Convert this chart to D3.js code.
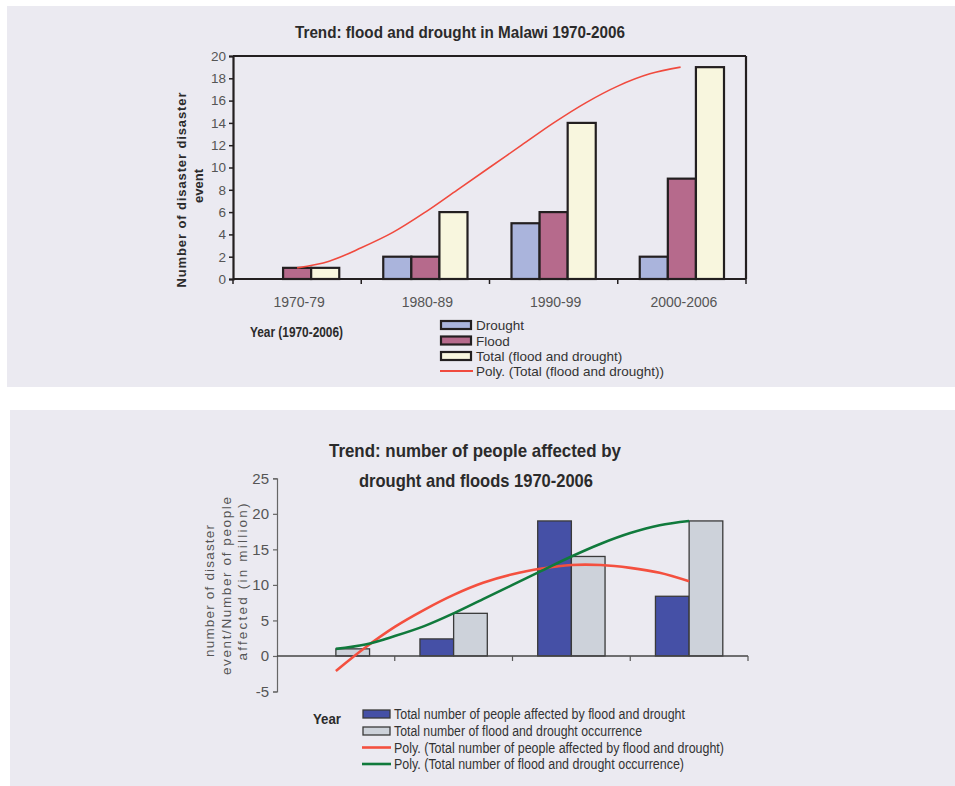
<!DOCTYPE html>
<html>
<head>
<meta charset="utf-8">
<script src="https://cdn.jsdelivr.net/npm/d3@7"></script>
<style>
  body { margin: 0; background: #ffffff; }
  svg { display: block; }
</style>
</head>
<body>
<svg id="chart" width="955" height="786"></svg>
<script>
// ---------- Chart 1: flood and drought events per period ----------
const periods = ["1970-79", "1980-89", "1990-99", "2000-2006"];
const droughtEvents = [0, 2, 5, 2];
const floodEvents = [1, 2, 6, 9];
const totalEvents = [1, 6, 14, 19];
const eventTicks = [0, 2, 4, 6, 8, 10, 12, 14, 16, 18, 20];
// polynomial trend of the totals, sampled along the period index (1 = first period)
const eventTrendPos = [1, 1.25, 1.5, 1.75, 2, 2.25, 2.5, 2.75, 3, 3.25, 3.5, 3.75, 3.99];
const eventTrendVal = [1.0, 1.6, 2.8, 4.2, 6.0, 8.0, 10.0, 12.0, 14.0, 15.8, 17.3, 18.4, 19.0];

// ---------- Chart 2: people affected vs. number of occurrences ----------
const peopleAffected = [0, 2.4, 19, 8.4];      // millions
const occurrences = [1, 6, 14, 19];
const peopleTicks = [-5, 0, 5, 10, 15, 20, 25];
const trendPos = [1, 1.25, 1.5, 1.75, 2, 2.25, 2.5, 2.75, 3, 3.25, 3.5, 3.75, 4];
const peopleTrendVal = [-2.1, 1.2, 4.1, 6.5, 8.6, 10.3, 11.5, 12.3, 12.8, 12.8, 12.4, 11.7, 10.5];
const occurrenceTrendVal = [1.0, 1.6, 2.8, 4.2, 6.0, 8.0, 10.0, 12.0, 14.0, 15.8, 17.3, 18.4, 19.0];

const SANS = "'Liberation Sans', Arial, Helvetica, sans-serif";
const NARROW = "'Liberation Sans Narrow', 'Arial Narrow', 'Liberation Sans', Arial, sans-serif";
const PANEL = "#ebeaf1";
const INK = "#231f20";
const plain = d => String(d);   // keep an ASCII hyphen for negative ticks

const svg = d3.select("#chart");

// panel backgrounds
svg.append("rect").attr("x", 7).attr("y", 6).attr("width", 948).attr("height", 381).attr("fill", PANEL);
svg.append("rect").attr("x", 10).attr("y", 410).attr("width", 945).attr("height", 376).attr("fill", PANEL);

// =================== Chart 1 ===================
(function () {
  const L = 233, R = 746, T = 56, B = 279;
  const g = svg.append("g");
  const y = d3.scaleLinear().domain([0, 20]).range([B, T]);
  const x = d3.scaleBand().domain(periods).range([L, R]);
  const bw = x.bandwidth();
  const inner = d3.scaleBand().domain(["drought", "flood", "total"]).range([22, bw - 22]);
  const series = [
    { key: "drought", values: droughtEvents, fill: "#aab4dc", label: "Drought" },
    { key: "flood", values: floodEvents, fill: "#b66a8c", label: "Flood" },
    { key: "total", values: totalEvents, fill: "#f8f6de", label: "Total (flood and drought)" }
  ];

  // title
  g.append("text").attr("x", 460).attr("y", 38).attr("text-anchor", "middle")
    .attr("font-family", NARROW).attr("font-weight", "bold").attr("font-size", 16)
    .attr("fill", "#2b2b2b").attr("textLength", 330).attr("lengthAdjust", "spacingAndGlyphs")
    .text("Trend: flood and drought in Malawi 1970-2006");

  // bars
  series.forEach(s => {
    g.selectAll(null).data(periods.map((p, i) => ({ p, v: s.values[i] })).filter(d => d.v > 0))
      .enter().append("rect")
      .attr("x", d => x(d.p) + inner(s.key))
      .attr("y", d => y(d.v))
      .attr("width", inner.bandwidth())
      .attr("height", d => y(0) - y(d.v))
      .attr("fill", s.fill).attr("stroke", INK).attr("stroke-width", 2.2);
  });

  // trend line
  const tx = d3.scaleLinear().domain([1, 4]).range([x(periods[0]) + bw / 2, x(periods[3]) + bw / 2]);
  const line = d3.line().x((d, i) => tx(eventTrendPos[i])).y(d => y(d)).curve(d3.curveCatmullRom);
  g.append("path").datum(eventTrendVal).attr("d", line)
    .attr("fill", "none").attr("stroke", "#f04a3e").attr("stroke-width", 1.6);

  // frame (top and right)
  g.append("line").attr("x1", L).attr("x2", R).attr("y1", T).attr("y2", T).attr("stroke", INK).attr("stroke-width", 2.2);
  g.append("line").attr("x1", R).attr("x2", R).attr("y1", T).attr("y2", B).attr("stroke", INK).attr("stroke-width", 2.2);

  // y axis
  const ya = g.append("g").attr("transform", `translate(${L},0)`)
    .call(d3.axisLeft(y).tickValues(eventTicks).tickSize(4).tickPadding(3).tickFormat(plain));
  ya.select(".domain").attr("stroke", INK).attr("stroke-width", 2.2);
  ya.selectAll(".tick line").attr("stroke", INK).attr("stroke-width", 1.5);
  ya.selectAll(".tick text").attr("font-family", SANS).attr("font-size", 13.5).attr("fill", "#555");

  // x axis: baseline, boundary ticks, centred labels
  g.append("line").attr("x1", L).attr("x2", R).attr("y1", B).attr("y2", B).attr("stroke", INK).attr("stroke-width", 2.2);
  const edges = periods.map(p => x(p)).concat([R]);
  g.selectAll(null).data(edges).enter().append("line")
    .attr("x1", d => d).attr("x2", d => d).attr("y1", B).attr("y2", B + 5)
    .attr("stroke", INK).attr("stroke-width", 1.5);
  g.selectAll(null).data(periods).enter().append("text")
    .attr("x", d => x(d) + bw / 2 + 2).attr("y", 307).attr("text-anchor", "middle")
    .attr("font-family", SANS).attr("font-size", 14).attr("fill", "#555")
    .text(d => d);

  // y label (two lines)
  g.append("text").attr("transform", "translate(186,190) rotate(-90)").attr("text-anchor", "middle")
    .attr("font-family", SANS).attr("font-weight", "bold").attr("font-size", 13).attr("fill", "#2b2b2b")
    .attr("textLength", 195).attr("lengthAdjust", "spacing")
    .text("Number of disaster disaster");
  g.append("text").attr("transform", "translate(203,186) rotate(-90)").attr("text-anchor", "middle")
    .attr("font-family", SANS).attr("font-weight", "bold").attr("font-size", 13).attr("fill", "#2b2b2b")
    .text("event");

  // x title
  g.append("text").attr("x", 250).attr("y", 337)
    .attr("font-family", NARROW).attr("font-weight", "bold").attr("font-size", 14).attr("fill", "#2b2b2b")
    .attr("textLength", 93).attr("lengthAdjust", "spacingAndGlyphs")
    .text("Year (1970-2006)");

  // legend
  const rows = [325, 340.5, 356, 371];
  series.forEach((s, i) => {
    g.append("rect").attr("x", 441).attr("y", rows[i] - 4).attr("width", 30).attr("height", 8)
      .attr("fill", s.fill).attr("stroke", INK).attr("stroke-width", 2.2);
  });
  g.append("line").attr("x1", 440).attr("x2", 473).attr("y1", rows[3]).attr("y2", rows[3])
    .attr("stroke", "#f04a3e").attr("stroke-width", 2.2);
  const legendLabels = series.map(s => s.label).concat(["Poly. (Total (flood and drought))"]);
  legendLabels.forEach((t, i) => {
    g.append("text").attr("x", 476).attr("y", rows[i] + 5)
      .attr("font-family", SANS).attr("font-size", 13.5).attr("fill", "#333").text(t);
  });
})();

// =================== Chart 2 ===================
(function () {
  const L = 277, R = 748;
  const g = svg.append("g");
  const y = d3.scaleLinear().domain([-5, 25]).range([691.5, 478.3]);
  const x = d3.scaleBand().domain(periods).range([L, R]);
  const bw = x.bandwidth();
  const inner = d3.scaleBand().domain(["people", "occ"]).range([25.2, bw - 25.2]);
  const series = [
    { key: "people", values: peopleAffected, fill: "#4550a6",
      label: "Total number of people affected by flood and drought" },
    { key: "occ", values: occurrences, fill: "#cdd2da",
      label: "Total number of flood and drought occurrence" }
  ];

  // title
  g.append("text").attr("x", 475).attr("y", 457).attr("text-anchor", "middle")
    .attr("font-family", NARROW).attr("font-weight", "bold").attr("font-size", 19).attr("fill", "#2b2b2b")
    .attr("textLength", 292).attr("lengthAdjust", "spacingAndGlyphs")
    .text("Trend: number of people affected by");
  g.append("text").attr("x", 476).attr("y", 487).attr("text-anchor", "middle")
    .attr("font-family", NARROW).attr("font-weight", "bold").attr("font-size", 19).attr("fill", "#2b2b2b")
    .attr("textLength", 234).attr("lengthAdjust", "spacingAndGlyphs")
    .text("drought and floods 1970-2006");

  // y axis
  const ya = g.append("g").attr("transform", `translate(${L},0)`)
    .call(d3.axisLeft(y).tickValues(peopleTicks).tickSize(4).tickPadding(4).tickFormat(plain));
  ya.select(".domain").attr("stroke", "#666").attr("stroke-width", 1.2);
  ya.selectAll(".tick line").attr("stroke", "#666").attr("stroke-width", 1.2);
  ya.selectAll(".tick text").attr("font-family", NARROW).attr("font-size", 15).attr("fill", "#555");

  // bars
  series.forEach(s => {
    g.selectAll(null).data(periods.map((p, i) => ({ p, v: s.values[i] })).filter(d => d.v > 0))
      .enter().append("rect")
      .attr("x", d => x(d.p) + inner(s.key))
      .attr("y", d => y(d.v))
      .attr("width", inner.bandwidth())
      .attr("height", d => y(0) - y(d.v))
      .attr("fill", s.fill).attr("stroke", "#3a3a3a").attr("stroke-width", 1.3);
  });

  // x axis at zero
  g.append("line").attr("x1", L).attr("x2", R).attr("y1", y(0)).attr("y2", y(0))
    .attr("stroke", "#444").attr("stroke-width", 1.6);
  const edges = periods.map(p => x(p)).concat([R]).slice(1);
  g.selectAll(null).data(edges).enter().append("line")
    .attr("x1", d => d).attr("x2", d => d).attr("y1", y(0)).attr("y2", y(0) + 5)
    .attr("stroke", "#555").attr("stroke-width", 1.2);

  // trend lines
  const tx = d3.scaleLinear().domain([1, 4]).range([x(periods[0]) + bw / 2, x(periods[3]) + bw / 2]);
  const mk = vals => d3.line().x((d, i) => tx(trendPos[i])).y(d => y(d)).curve(d3.curveCatmullRom)(vals);
  g.append("path").attr("d", mk(peopleTrendVal)).attr("fill", "none")
    .attr("stroke", "#f4503f").attr("stroke-width", 2.6);
  g.append("path").attr("d", mk(occurrenceTrendVal)).attr("fill", "none")
    .attr("stroke", "#107a3c").attr("stroke-width", 2.6);

  // y label (three lines)
  const ylines = [
    { t: "number of disaster", x: 214, cy: 591, len: 132 },
    { t: "event/Number of people", x: 231, cy: 586, len: 178 },
    { t: "affected (in million)", x: 247, cy: 582, len: 157 }
  ];
  ylines.forEach(l => {
    g.append("text").attr("transform", `translate(${l.x},${l.cy}) rotate(-90)`).attr("text-anchor", "middle")
      .attr("font-family", SANS).attr("font-size", 13.5).attr("fill", "#555")
      .attr("textLength", l.len).attr("lengthAdjust", "spacing").text(l.t);
  });

  // legend
  g.append("text").attr("x", 313).attr("y", 724)
    .attr("font-family", NARROW).attr("font-weight", "bold").attr("font-size", 15).attr("fill", "#2b2b2b")
    .attr("textLength", 28).attr("lengthAdjust", "spacingAndGlyphs").text("Year");
  const rows = [714, 731, 747.5, 764];
  series.forEach((s, i) => {
    g.append("rect").attr("x", 363).attr("y", rows[i] - 4).attr("width", 27).attr("height", 8)
      .attr("fill", s.fill).attr("stroke", "#3a3a3a").attr("stroke-width", 1.3);
  });
  g.append("line").attr("x1", 362).attr("x2", 391).attr("y1", rows[2]).attr("y2", rows[2])
    .attr("stroke", "#f4503f").attr("stroke-width", 2.6);
  g.append("line").attr("x1", 362).attr("x2", 391).attr("y1", rows[3]).attr("y2", rows[3])
    .attr("stroke", "#107a3c").attr("stroke-width", 2.6);
  const labels = series.map(s => s.label).concat([
    "Poly. (Total number of people affected by flood and drought)",
    "Poly. (Total number of flood and drought occurrence)"
  ]);
  const lens = [291, 248, 330, 290];
  labels.forEach((t, i) => {
    g.append("text").attr("x", 394).attr("y", rows[i] + 5)
      .attr("font-family", NARROW).attr("font-size", 14).attr("fill", "#333")
      .attr("textLength", lens[i]).attr("lengthAdjust", "spacingAndGlyphs").text(t);
  });
})();
</script>
</body>
</html>
